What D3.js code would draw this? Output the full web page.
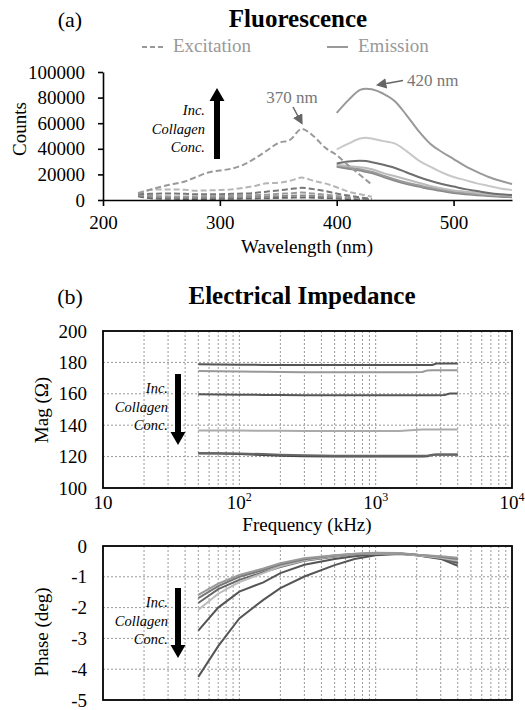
<!DOCTYPE html>
<html>
<head>
<meta charset="utf-8">
<script src="https://cdn.jsdelivr.net/npm/d3@7"></script>
<style>
body { margin: 0; background: #fff; }
svg text { font-family: "Liberation Serif", "DejaVu Serif", "Noto Serif", Times, serif; }
</style>
</head>
<body>
<svg id="chart" width="525" height="710"></svg>
<script>
// (a) fluorescence, excitation spectra (dashed)
var exWave = [230, 240, 250, 260, 270, 280, 290, 300, 310, 320, 330, 340, 350, 360, 370, 380, 390, 400, 410, 420, 430]
var exCounts = [
  [5000, 8000, 10500, 12500, 14500, 18000, 21500, 23000, 24500, 27500, 32500, 38500, 44500, 47000, 55500, 50000, 41000, 35000, 27000, 19500, 12000],
  [5500, 7800, 8300, 8300, 8000, 7300, 7500, 7800, 8300, 9500, 11000, 13000, 13500, 15000, 17500, 15000, 13000, 10000, 6500, 4500, 2500],
  [4500, 4800, 5000, 5000, 4800, 4500, 4500, 4500, 4800, 5000, 5500, 6500, 7500, 8500, 9500, 8500, 7000, 5000, 3500, 2000, 1000],
  [4000, 3500, 3000, 2800, 2800, 2800, 3000, 3000, 3200, 3500, 3800, 4200, 4800, 5200, 5800, 5000, 4200, 3200, 2200, 1200, 600],
  [3500, 2500, 2000, 1800, 1800, 1800, 1800, 1900, 2000, 2200, 2500, 2800, 3000, 3300, 3600, 3200, 2600, 2000, 1400, 800, 400],
  [3000, 1500, 1000, 900, 800, 800, 800, 900, 1000, 1100, 1200, 1400, 1600, 1800, 2000, 1800, 1500, 1100, 800, 500, 300]
]
var exColors = ['#999', '#b5b5b5', '#777', '#999', '#888', '#666']

// (a) emission spectra (solid)
var emWave = [400, 410, 420, 425, 430, 440, 450, 460, 470, 480, 490, 500, 510, 520, 530, 540, 550]
var emCounts = [
  [68000, 78000, 86000, 87000, 86500, 83000, 77000, 66000, 54000, 44000, 37500, 32000, 26500, 22000, 18000, 15000, 12500],
  [39500, 44000, 48000, 48700, 48000, 46000, 44000, 38000, 31000, 26000, 21500, 18000, 15500, 13000, 11000, 9000, 7800],
  [28500, 30000, 30700, 30500, 29500, 27500, 25000, 21500, 18000, 15000, 12500, 10500, 8500, 7000, 5500, 4500, 3900],
  [27500, 26500, 25500, 25000, 24000, 21000, 18500, 16000, 13500, 11000, 9000, 7500, 6500, 5500, 4500, 4000, 3500],
  [27000, 25500, 24000, 23000, 22000, 19000, 16000, 13500, 11500, 9500, 8000, 6500, 5500, 4500, 3800, 3200, 2800],
  [26000, 24500, 23000, 22000, 21000, 18000, 15000, 12500, 10500, 8500, 7000, 5500, 4500, 3800, 3200, 2600, 2200]
]
var emColors = ['#999', '#c8c8c8', '#6e6e6e', '#bbb', '#999', '#888']

var countTicks = [0, 20000, 40000, 60000, 80000, 100000]
var waveTicks = [200, 300, 400, 500]

// (b) impedance magnitude
var magFreq = [50, 70, 100, 150, 200, 300, 500, 700, 1000, 1500, 1800, 2200, 2400, 2600, 2800, 3200, 3500, 4000]
var magVals = [
  [178.9, 178.7, 178.5, 178.4, 178.3, 178.3, 178.3, 178.3, 178.3, 178.3, 178.3, 178.3, 178.3, 178.4, 179.3, 179.3, 179.3, 179.3],
  [174.6, 174.4, 174.2, 174.0, 173.9, 173.8, 173.8, 173.8, 173.8, 173.8, 173.8, 173.9, 174.9, 175.0, 175.0, 175.0, 175.0, 175.0],
  [159.7, 159.6, 159.4, 159.3, 159.2, 159.1, 159.1, 159.1, 159.1, 159.1, 159.1, 159.1, 159.1, 159.1, 159.1, 159.2, 160.2, 160.2],
  [136.7, 136.7, 136.6, 136.5, 136.4, 136.3, 136.3, 136.3, 136.3, 136.3, 136.8, 137.2, 137.2, 137.2, 137.2, 137.2, 137.2, 137.2],
  [122.0, 121.9, 121.6, 121.0, 120.5, 120.2, 120.1, 120.1, 120.1, 120.1, 120.1, 120.1, 120.2, 121.2, 121.4, 121.4, 121.4, 121.4],
  [122.3, 122.2, 122.0, 121.6, 121.2, 120.8, 120.6, 120.5, 120.5, 120.5, 120.5, 120.5, 120.5, 121.0, 121.2, 121.2, 121.2, 121.2]
]
var magColors = ['#555', '#999', '#555', '#aaa', '#444', '#666']

// (b) impedance phase
var phaseFreq = [50, 70, 100, 150, 200, 300, 500, 700, 1000, 1500, 2000, 3000, 4000]
var phaseVals = [
  [-4.25, -3.25, -2.35, -1.75, -1.37, -0.99, -0.62, -0.42, -0.30, -0.26, -0.30, -0.42, -0.64],
  [-2.75, -2.00, -1.48, -1.18, -0.88, -0.61, -0.42, -0.33, -0.27, -0.25, -0.28, -0.38, -0.55],
  [-1.85, -1.40, -1.10, -0.85, -0.68, -0.48, -0.35, -0.28, -0.24, -0.24, -0.30, -0.40, -0.52],
  [-2.07, -1.55, -1.17, -0.88, -0.66, -0.46, -0.33, -0.27, -0.24, -0.25, -0.30, -0.38, -0.48],
  [-1.69, -1.30, -1.00, -0.78, -0.60, -0.43, -0.31, -0.26, -0.23, -0.24, -0.28, -0.35, -0.42],
  [-1.59, -1.22, -0.94, -0.73, -0.56, -0.40, -0.30, -0.25, -0.22, -0.23, -0.28, -0.33, -0.38]
]
var phaseColors = ['#555', '#555', '#666', '#bbb', '#777', '#999']

var magTicks = [100, 120, 140, 160, 180, 200]
var phaseTicks = [-5, -4, -3, -2, -1, 0]
var freqTicks = [10, 100, 1000, 10000]
var freqExp = ['', '2', '3', '4']


var FONT = '"Liberation Serif", "DejaVu Serif", "Noto Serif", Times, serif'
var svg = d3.select('#chart').style('font-family', FONT)

var defs = svg.append('defs')
defs.append('marker')
  .attr('id', 'head')
  .attr('viewBox', '0 0 10 10')
  .attr('refX', 8).attr('refY', 5)
  .attr('markerWidth', 7).attr('markerHeight', 7)
  .attr('orient', 'auto')
  .append('path').attr('d', 'M0,0L10,5L0,10z').attr('fill', '#666')

function blockArrow(g, x, y0, y1){
  var dir = y1 > y0 ? 1 : -1
  var hb = y1 - dir * 13
  var pts = [[x - 3, y0], [x + 3, y0], [x + 3, hb], [x + 7.5, hb], [x, y1], [x - 7.5, hb], [x - 3, hb]]
  g.append('path').attr('d', 'M' + pts.join('L') + 'Z').attr('fill', '#000')
}

function incText(g, x, y){
  g.append('g').selectAll('text')
    .data(['Inc.', 'Collagen', 'Conc.'])
    .join('text')
    .attr('x', x).attr('y', function(d, i){ return y + i * 18.5 })
    .attr('text-anchor', 'end')
    .attr('font-style', 'italic')
    .attr('font-size', 14.5)
    .text(function(d){ return d })
}

// ---------- (a) ----------
var xA = d3.scaleLinear().domain([200, 550]).range([103, 512])
var yA = d3.scaleLinear().domain([0, 100000]).range([200, 72])

svg.append('text').attr('x', 70).attr('y', 27).attr('text-anchor', 'middle')
  .attr('font-size', 22).text('(a)')
svg.append('text').attr('x', 298).attr('y', 27).attr('text-anchor', 'middle')
  .attr('font-size', 25).attr('font-weight', 'bold').text('Fluorescence')

var leg = svg.append('g').attr('fill', '#999')
leg.append('line').attr('x1', 142).attr('x2', 164).attr('y1', 47).attr('y2', 47)
  .attr('stroke', '#999').attr('stroke-width', 2).attr('stroke-dasharray', '5,3')
leg.append('text').attr('x', 173).attr('y', 52).attr('font-size', 19).text('Excitation')
leg.append('line').attr('x1', 327).attr('x2', 348).attr('y1', 47).attr('y2', 47)
  .attr('stroke', '#999').attr('stroke-width', 2)
leg.append('text').attr('x', 358).attr('y', 52).attr('font-size', 19).text('Emission')

var lineEx = d3.line().x(function(d, i){ return xA(exWave[i]) }).y(function(d){ return yA(d) })
  .curve(d3.curveMonotoneX)
var lineEm = d3.line().x(function(d, i){ return xA(emWave[i]) }).y(function(d){ return yA(d) })
  .curve(d3.curveMonotoneX)

svg.append('g').selectAll('path')
  .data(emCounts.slice().reverse())
  .join('path')
  .attr('d', lineEm)
  .attr('fill', 'none')
  .attr('stroke', function(d, i){ return emColors[emCounts.length - 1 - i] })
  .attr('stroke-width', 2)

svg.append('g').selectAll('path')
  .data(exCounts.slice().reverse())
  .join('path')
  .attr('d', lineEx)
  .attr('fill', 'none')
  .attr('stroke', function(d, i){ return exColors[exCounts.length - 1 - i] })
  .attr('stroke-width', 2)
  .attr('stroke-dasharray', '6,3')

var axA = svg.append('g').attr('transform', 'translate(103,0)')
  .call(d3.axisLeft(yA).tickValues(countTicks).tickSize(5).tickSizeOuter(0).tickPadding(13)
    .tickFormat(function(d){ return String(d) }))
var axB = svg.append('g').attr('transform', 'translate(0,200)')
  .call(d3.axisBottom(xA).tickValues(waveTicks).tickSize(6).tickSizeOuter(0).tickPadding(10))
;[axA, axB].forEach(function(a){
  a.attr('font-family', null)
  a.selectAll('text').attr('font-size', 19)
  a.selectAll('path, line').attr('stroke', '#000').attr('stroke-width', 1.6)
})

svg.append('text').attr('transform', 'translate(26,129) rotate(-90)')
  .attr('text-anchor', 'middle').attr('font-size', 19).text('Counts')
svg.append('text').attr('x', 307).attr('y', 253).attr('text-anchor', 'middle')
  .attr('font-size', 19).text('Wavelength (nm)')

blockArrow(svg, 217, 159, 88)
incText(svg, 205, 115)

svg.append('text').attr('x', 292).attr('y', 103).attr('text-anchor', 'middle')
  .attr('font-size', 17).attr('fill', '#777').text('370 nm')
svg.append('line').attr('x1', 293).attr('y1', 107).attr('x2', xA(370)).attr('y2', 123)
  .attr('stroke', '#666').attr('stroke-width', 1.5).attr('marker-end', 'url(#head)')
svg.append('text').attr('x', 407).attr('y', 86)
  .attr('font-size', 17).attr('fill', '#777').text('420 nm')
svg.append('line').attr('x1', 403).attr('y1', 80.5).attr('x2', 378).attr('y2', 85)
  .attr('stroke', '#666').attr('stroke-width', 1.5).attr('marker-end', 'url(#head)')

// ---------- (b) ----------
var xF = d3.scaleLog().domain([10, 10000]).range([103, 512])
var yM = d3.scaleLinear().domain([100, 200]).range([488, 331])
var yP = d3.scaleLinear().domain([-5, 0]).range([700, 546])

svg.append('text').attr('x', 70).attr('y', 304).attr('text-anchor', 'middle')
  .attr('font-size', 22).text('(b)')
svg.append('text').attr('x', 302).attr('y', 304).attr('text-anchor', 'middle')
  .attr('font-size', 25).attr('font-weight', 'bold').text('Electrical Impedance')

var minor = xF.ticks().filter(function(d){ return d > 10 && d < 10000 })

function panel(y, ticks, freqs, vals, colors, fmt){
  var g = svg.append('g')
  var r = y.range()
  g.append('g').selectAll('line').data(minor).join('line')
    .attr('x1', xF).attr('x2', xF).attr('y1', r[1]).attr('y2', r[0])
    .attr('stroke', '#999').attr('stroke-width', 1).attr('stroke-dasharray', '2,2')
  g.append('g').selectAll('line').data(ticks.slice(1, -1)).join('line')
    .attr('x1', 103).attr('x2', 512).attr('y1', y).attr('y2', y)
    .attr('stroke', '#999').attr('stroke-width', 1).attr('stroke-dasharray', '2,2')

  var line = d3.line().x(function(d, i){ return xF(freqs[i]) }).y(function(d){ return y(d) })
  g.append('g').selectAll('path').data(vals).join('path')
    .attr('d', line).attr('fill', 'none')
    .attr('stroke', function(d, i){ return colors[i] })
    .attr('stroke-width', 2)

  g.append('rect').attr('x', 103).attr('y', r[1]).attr('width', 409).attr('height', r[0] - r[1])
    .attr('fill', 'none').attr('stroke', '#000').attr('stroke-width', 1.8)

  var ax = g.append('g').attr('transform', 'translate(103,0)')
    .call(d3.axisLeft(y).tickValues(ticks).tickSize(0).tickPadding(16).tickFormat(fmt))
  ax.attr('font-family', null)
  ax.select('.domain').remove()
  ax.selectAll('text').attr('font-size', 19)
  return g
}

panel(yM, magTicks, magFreq, magVals, magColors, function(d){ return String(d) })
panel(yP, phaseTicks, phaseFreq, phaseVals, phaseColors, function(d){ return String(d) })

var fl = svg.append('g').selectAll('text').data(freqTicks).join('text')
  .attr('x', xF).attr('y', 509).attr('text-anchor', 'middle').attr('font-size', 19)
fl.append('tspan').text('10')
fl.append('tspan').attr('dy', -8).attr('font-size', 12).text(function(d, i){ return freqExp[i] })

svg.append('text').attr('x', 307).attr('y', 531).attr('text-anchor', 'middle')
  .attr('font-size', 19).text('Frequency (kHz)')
svg.append('text').attr('transform', 'translate(48,410) rotate(-90)')
  .attr('text-anchor', 'middle').attr('font-size', 19).text('Mag (\u03a9)')
svg.append('text').attr('transform', 'translate(48,632) rotate(-90)')
  .attr('text-anchor', 'middle').attr('font-size', 19).text('Phase (deg)')

blockArrow(svg, 178, 374, 445)
incText(svg, 168, 393)
blockArrow(svg, 178, 588, 658)
incText(svg, 168, 607)
</script>
</body>
</html>
